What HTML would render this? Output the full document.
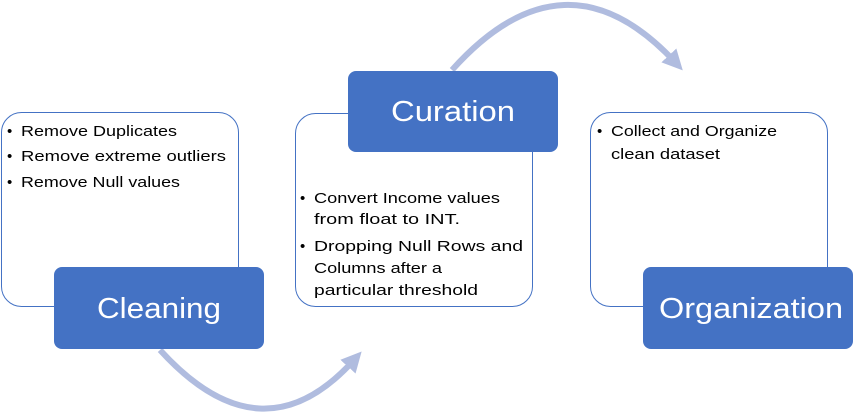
<!DOCTYPE html>
<html><head><style>body{margin:0;background:#fff}svg{display:block}text{font-family:"Liberation Sans",sans-serif}</style></head><body>
<svg width="855" height="412" viewBox="0 0 855 412">
<defs><marker id="a" markerWidth="3.4" markerHeight="3.4" refX="1.5" refY="1.7" orient="auto" markerUnits="strokeWidth"><path d="M0,0 L3.4,1.7 L0,3.4 Z" fill="#b0bcdf"/></marker></defs>
<path d="M160,350 Q262,462 354,360" fill="none" stroke="#b0bcdf" stroke-width="6" marker-end="url(#a)"/>
<path d="M452,70 Q565,-56 675,62" fill="none" stroke="#b0bcdf" stroke-width="6" marker-end="url(#a)"/>
<rect x="1.5" y="112.5" width="237" height="194" rx="20" fill="#fff" stroke="#4472c4"/>
<rect x="295.5" y="113.5" width="237" height="193" rx="20" fill="#fff" stroke="#4472c4"/>
<rect x="590.5" y="112.5" width="237" height="194" rx="20" fill="#fff" stroke="#4472c4"/>
<rect x="54" y="267" width="210" height="82" rx="8" fill="#4472c4"/>
<rect x="348" y="71" width="210" height="81" rx="8" fill="#4472c4"/>
<rect x="643" y="267" width="210" height="82" rx="8" fill="#4472c4"/>
<g fill="#fff" font-size="29">
<text x="97" y="318" textLength="124" lengthAdjust="spacingAndGlyphs">Cleaning</text>
<text x="391" y="121" textLength="124" lengthAdjust="spacingAndGlyphs">Curation</text>
<text x="659" y="318" textLength="184" lengthAdjust="spacingAndGlyphs">Organization</text>
</g>
<g fill="#000" font-size="15">
<text x="7" y="136">•</text><text x="21" y="136" textLength="156" lengthAdjust="spacingAndGlyphs">Remove Duplicates</text>
<text x="7" y="161">•</text><text x="21" y="161" textLength="205" lengthAdjust="spacingAndGlyphs">Remove extreme outliers</text>
<text x="7" y="187">•</text><text x="21" y="187" textLength="159" lengthAdjust="spacingAndGlyphs">Remove Null values</text>
<text x="300" y="203">•</text><text x="314" y="203" textLength="186" lengthAdjust="spacingAndGlyphs">Convert Income values</text>
<text x="314" y="224" textLength="146" lengthAdjust="spacingAndGlyphs">from float to INT.</text>
<text x="300" y="251">•</text><text x="314" y="251" textLength="209" lengthAdjust="spacingAndGlyphs">Dropping Null Rows and</text>
<text x="314" y="273" textLength="128" lengthAdjust="spacingAndGlyphs">Columns after a</text>
<text x="314" y="295" textLength="164" lengthAdjust="spacingAndGlyphs">particular threshold</text>
<text x="597" y="136">•</text><text x="611" y="136" textLength="166" lengthAdjust="spacingAndGlyphs">Collect and Organize</text>
<text x="611" y="159" textLength="109" lengthAdjust="spacingAndGlyphs">clean dataset</text>
</g>
</svg>
</body></html>
